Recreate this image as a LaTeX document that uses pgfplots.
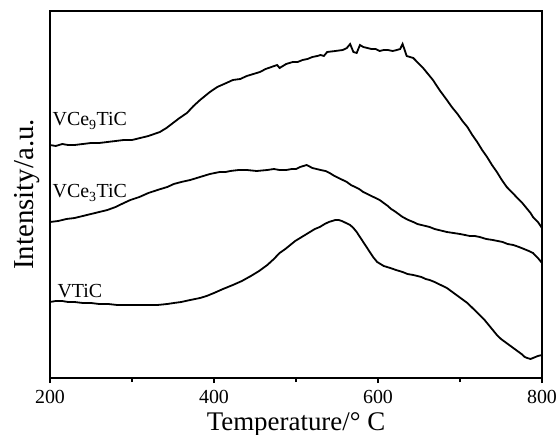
\documentclass[border=0pt]{standalone}
\usepackage{fontspec}
\setmainfont{Liberation Serif}
\usepackage{pgfplots}
\pgfplotsset{compat=1.18}
\begin{document}
\begin{tikzpicture}
\useasboundingbox (-50bp,-57bp) rectangle (508bp,378bp);
\begin{axis}[
  at={(0,0)}, anchor=south west,
  scale only axis, width=492bp, height=367bp,
  xmin=200, xmax=800, ymin=0, ymax=367,
  ytick=\empty,
  xtick={200,400,600,800}, minor xtick={300,500,700},
  xtick pos=lower, tick align=outside,
  major tick length=5bp, minor tick length=4bp,
  every tick/.style={black, line width=1.2bp},
  axis line style={line width=1.6bp},
  /pgf/number format/assume math mode=true,
  ticklabel style={font=\fontsize{20}{20}\selectfont},
  xticklabel style={yshift=-4bp},
  xlabel={Temperature/° C},
  every axis x label/.style={font=\fontsize{27}{27}\selectfont, at={(axis description cs:0.5,0)}, anchor=base, yshift=-52bp},
  clip=false,
]
\addplot[black, line width=1.8bp] coordinates {
(200,233)(207,232)(215,234)(222,233)(230,233)(240,234)(250,235)(260,235)(270,236)(280,237)(290,238)(300,238)(310,240)(320,242)(334,246)(342,250)(350,255)(358,260)(367,265)(375,272)(383,278)(395,286)(404,291)(415,295)(423,298)(432,299)(440,302)(448,304)(456,306)(463,309)(470,311)(477,313)(480,310)(488,314)(496,316)(502,316)(508,318)(514,319)(520,321)(526,322)(530,323)(534,322)(538,326)(548,327)(557,328)(562,330)(566,334)(570,326)(574,325)(578,333)(582,331)(587,330)(592,329)(597,329)(602,327)(607,328)(612,328)(618,327)(623,328)(627,329)(630,334)(635,322)(643,320)(649,315)(655,310)(661,304)(667,298)(675,288)(684,278)(690,271)(697,264)(703,257)(709,251)(715,243)(721,236)(727,228)(733,221)(739,213)(745,206)(751,198)(757,191)(763,186)(770,180)(776,175)(782,169)(786,165)(789,161)(795,156)(800,150)
};
\addplot[black, line width=1.8bp] coordinates {
(200,156)(210,157)(220,159)(230,160)(240,162)(250,164)(260,166)(270,168)(280,171)(290,175)(298,178)(309,181)(320,185)(331,188)(343,191)(351,194)(360,196)(371,198)(383,201)(395,204)(407,206)(414,206)(420,207)(430,208)(440,208)(452,207)(465,208)(473,209)(480,208)(488,208)(495,209)(500,209)(505,211)(513,213)(520,210)(530,208)(536,207)(541,205)(547,202)(552,200)(557,198)(562,196)(567,193)(572,191)(577,189)(582,186)(587,184)(592,182)(597,180)(602,178)(607,175)(612,172)(616,169)(620,167)(625,164)(630,161)(637,158)(643,156)(648,154)(653,153)(658,152)(663,151)(669,149)(674,148)(679,147)(684,146)(692,145)(700,144)(706,143)(712,142)(718,142)(724,141)(732,139)(740,138)(746,137)(752,136)(758,134)(765,133)(772,131)(778,129)(784,127)(789,125)(795,120)(800,115)
};
\addplot[black, line width=1.8bp] coordinates {
(200,76)(207,77)(215,77)(222,76)(230,76)(240,75)(250,75)(260,74)(271,74)(282,73)(291,73)(300,73)(310,73)(320,73)(331,73)(343,74)(351,75)(360,76)(371,78)(383,80)(391,82)(400,85)(411,89)(423,93)(434,97)(445,102)(455,107)(465,113)(473,119)(480,125)(487,129)(493,133)(499,137)(505,140)(511,143)(517,146)(523,149)(529,151)(535,154)(540,156)(544,157)(548,158)(552,158)(556,157)(561,155)(566,153)(570,150)(574,146)(578,141)(582,136)(586,131)(590,126)(594,121)(599,116)(603,114)(607,112)(611,111)(615,110)(622,108)(630,106)(636,104)(643,103)(648,102)(653,101)(658,99)(663,98)(669,96)(674,94)(679,92)(684,90)(689,87)(694,84)(699,81)(704,78)(709,75)(714,71)(719,67)(724,63)(730,58)(735,53)(740,48)(745,43)(750,39)(755,36)(760,33)(765,30)(770,27)(775,24)(779,21)(782,20)(786,19)(789,20)(792,21)(795,22)(800,23)
};
\node[anchor=west, inner sep=0pt, font=\fontsize{20}{20}\selectfont] at (axis cs:203,257) {VCe\textsubscript{9}TiC};
\node[anchor=west, inner sep=0pt, font=\fontsize{20}{20}\selectfont] at (axis cs:203,185) {VCe\textsubscript{3}TiC};
\node[anchor=west, inner sep=0pt, font=\fontsize{20}{20}\selectfont] at (axis cs:209,87) {VTiC};
\end{axis}
\node[rotate=90, anchor=base, inner sep=0pt, font=\fontsize{29}{29}\selectfont] at (-17bp,183.5bp) {Intensity/a.u.};
\end{tikzpicture}
\end{document}
